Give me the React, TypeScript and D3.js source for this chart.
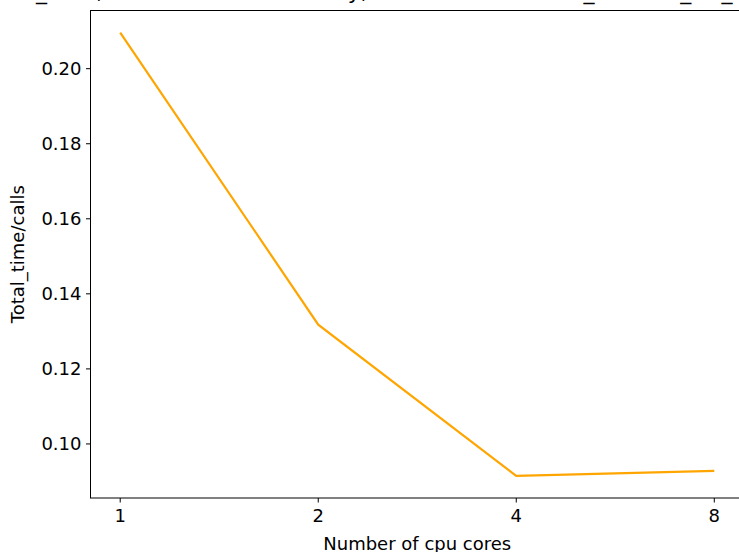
import React from "react";
import * as d3 from "d3";

// cpu cores (plotted on a log2 axis) and the measured total_time/calls
const cores = [1, 2, 4, 8];
const timePerCall = [0.2096, 0.1318, 0.0915, 0.0928];
const yTicks = [0.1, 0.12, 0.14, 0.16, 0.18, 0.2];
const titleText = "n_calls, mean time vs cores by, fixed iteration max_number_for_it";

export default function App() {
  const W = 739;
  const H = 552;
  const left = 90.5;
  const right = 744;
  const top = 10.5;
  const bottom = 498;

  // matplotlib style 5% padding
  const lx = d3.extent(cores.map((c) => Math.log2(c))) as [number, number];
  const px = (lx[1] - lx[0]) * 0.05;
  const x = d3
    .scaleLog()
    .base(2)
    .domain([2 ** (lx[0] - px), 2 ** (lx[1] + px)])
    .range([left, right]);

  const ey = d3.extent(timePerCall) as [number, number];
  const py = (ey[1] - ey[0]) * 0.05;
  const y = d3
    .scaleLinear()
    .domain([ey[0] - py, ey[1] + py])
    .range([bottom, top]);

  const line = d3
    .line<number>()
    .x((_, i) => x(cores[i]))
    .y((d) => y(d));

  const font = "DejaVu Sans, sans-serif";
  const fs = 18;

  return (
    <svg
      width={W}
      height={H}
      style={{ position: "absolute", left: 0, top: 0, background: "#fff" }}
    >
      <text x={22} y={-1.5} fontSize={22} fontFamily={font} fill="#000">
        {titleText}
      </text>

      {/* line */}
      <path d={line(timePerCall) || ""} fill="none" stroke="#FFA500" strokeWidth={2.2} />

      {/* spines */}
      <rect
        x={left}
        y={top}
        width={right - left}
        height={bottom - top}
        fill="none"
        stroke="#000"
        strokeWidth={1}
      />

      {/* x ticks */}
      {cores.map((c) => (
        <g key={c} transform={`translate(${x(c)},${bottom})`}>
          <line y2={4.5} stroke="#000" strokeWidth={1} />
          <text y={24} textAnchor="middle" fontSize={fs} fontFamily={font} fill="#000">
            {c}
          </text>
        </g>
      ))}

      {/* y ticks */}
      {yTicks.map((t) => (
        <g key={t} transform={`translate(${left},${y(t)})`}>
          <line x2={-4.5} stroke="#000" strokeWidth={1} />
          <text x={-9} dy="0.35em" textAnchor="end" fontSize={fs} fontFamily={font} fill="#000">
            {t.toFixed(2)}
          </text>
        </g>
      ))}

      <text x={(left + right) / 2} y={549.5} textAnchor="middle" fontSize={fs} fontFamily={font} fill="#000">
        Number of cpu cores
      </text>
      <text
        transform={`translate(24,${(top + bottom) / 2}) rotate(-90)`}
        textAnchor="middle"
        fontSize={fs}
        fontFamily={font}
        fill="#000"
      >
        Total_time/calls
      </text>
    </svg>
  );
}
